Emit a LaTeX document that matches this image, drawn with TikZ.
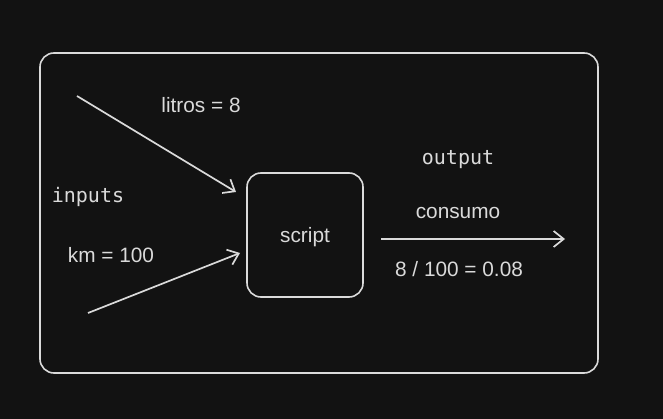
\documentclass[tikz,border=0pt]{standalone}
\usepackage{fontspec}
\setmainfont{Liberation Sans}
\setmonofont{DejaVu Sans Mono}
\usetikzlibrary{arrows.meta,positioning}
\definecolor{bg}{HTML}{121212}
\definecolor{ink}{HTML}{DADADA}

\begin{document}
\begin{tikzpicture}[
x=1pt, y=-1pt,
frame/.style={
  draw=ink,
  line width=1.6pt,
  rounded corners=14pt
  },
label/.style={
  text=ink,
  font=\fontsize{20.8}{24}\selectfont,
  inner sep=0pt
  },
code/.style={
  text=ink,
  font=\ttfamily\fontsize{20}{24}\selectfont,
  inner sep=0pt
  },
flow/.style={
  draw=ink,
  line width=1.7pt,
  -{Straight Barb[length=10pt,width=16pt,line width=1.7pt]}
  },
>=latex
]
\fill[bg] (0,0) rectangle (663,419);
\useasboundingbox (0,0) rectangle (663,419);

% outer frame and the script box
\draw[frame] (40,53) rectangle (598,373);
\node[frame, minimum width=116pt, minimum height=124pt, label, text depth=0pt] (script) at (305,235) {script};

% inputs
\node[code] (inputs) at (88,197) {inputs};
\node[label] (litros) at (201,105) {litros = 8};
\node[label] (km) at (111,255) {km = 100};
\coordinate (litrosIn) at (77,96);
\coordinate (litrosEnd) at (236,192);
\coordinate (kmIn) at (88,313);
\coordinate (kmEnd) at (240,253);
\draw[flow] (litrosIn) -- (litrosEnd);
\draw[flow] (kmIn) -- (kmEnd);

% output
\node[code] (output) at (458,160) {output};
\node[label] (consumo) at (458,213) {consumo};
\node[label] (result) at (459,269) {8 / 100 = 0.08};
\coordinate (outStart) at (381,239);
\coordinate (outEnd) at (565,239);
\draw[flow] (outStart) -- (outEnd);

\end{tikzpicture}
\end{document}
